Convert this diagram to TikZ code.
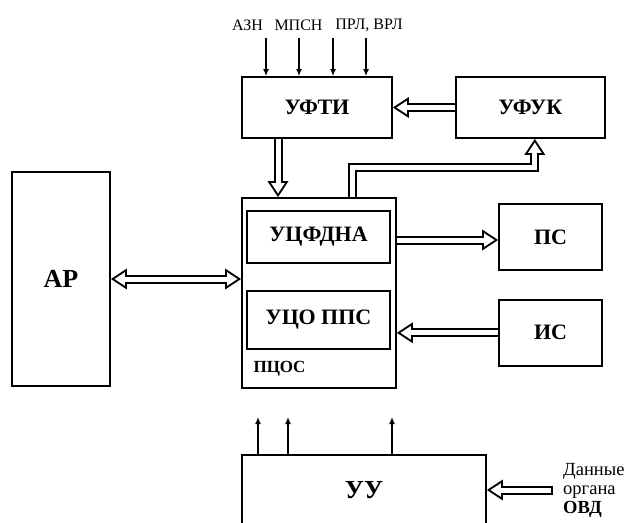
\documentclass[tikz,border=0pt]{standalone}
\usepackage{fontspec}
\setmainfont{Liberation Serif}
\usetikzlibrary{arrows.meta, positioning}

\tikzset{
  tipout/.tip={Triangle[width=21pt,length=16pt,line width=0pt]},
  tipin/.tip={Triangle[width=13.6pt,length=10.4pt,line width=0pt]}
}

\begin{document}
\begin{tikzpicture}[
  x=1pt, y=-1pt,
  blok/.style={
    draw, line width=1.8pt,
    font=\fontsize{22}{24}\selectfont\bfseries,
    inner sep=0pt
  },
  big/.style={font=\fontsize{26}{28}\selectfont\bfseries},
  inlbl/.style={font=\fontsize{16}{18}\selectfont},
  arr/.style={line width=1.4pt, -{Latex[length=7pt,width=6pt]}},
  dbl/.style={
    line width=9pt, -{tipout},
    postaction={draw=white, line width=5pt,
      shorten >=3.6pt, shorten <=#1, -{tipin}}
  },
  dbl/.default=0pt,
  dblboth/.style={
    line width=9pt, {tipout}-{tipout},
    postaction={draw=white, line width=5pt,
      shorten >=3.6pt, shorten <=3.6pt, {tipin}-{tipin}}
  }
]
\useasboundingbox (0,0) rectangle (628,522);
\clip (0,0) rectangle (628,522);

\node[blok, big, minimum width=98pt, minimum height=214pt] (ar) at (61,279) {АР};
\node[blok, minimum width=154pt, minimum height=190pt] (pcos) at (319,293) {};
\node[blok, minimum width=143pt, minimum height=52pt] (ucfdna) at (318.5,237)
  {УЦФДНА};
\node[blok, minimum width=143pt, minimum height=58pt, below=26pt of ucfdna]
  (ucopps) {УЦО ППС};
\node[anchor=west, font=\fontsize{17}{19}\selectfont\bfseries] (pcoslbl)
  at (250,369) {ПЦОС};

\node[blok, minimum width=150pt, minimum height=61pt] (ufti) at (317,107.5)
  {УФТИ};
\node[blok, minimum width=149pt, minimum height=61pt, right=62pt of ufti]
  (ufuk) {УФУК};
\node[blok, minimum width=103pt, minimum height=66pt] (ps) at (550.5,237) {ПС};
\node[blok, minimum width=103pt, minimum height=66pt, below=28pt of ps]
  (is) {ИС};

\node[blok, minimum width=244pt, minimum height=120pt, anchor=north] (uu)
  at (364,454) {};
\node[big] (uulbl) at (364,490) {УУ};
\node[anchor=west, align=left, inner sep=0pt,
  font=\fontsize{18.5}{19}\selectfont] (ovdlbl)
  at (563,490) {Данные\\органа\\\textbf{ОВД}};

% inputs
\node[inlbl] (azn) at (247.5,25) {АЗН};
\node[inlbl] (mpsn) at (298.5,25) {МПСН};
\node[inlbl] (prl) at (369,25) {ПРЛ, ВРЛ};
\foreach \x [count=\i] in {266,299,333,366} {
  \coordinate (in\i) at (\x,38);
  \draw[arr] (in\i) -- (in\i |- ufti.north);
}
\foreach \x [count=\i] in {258,288,392} {
  \coordinate (out\i) at (\x,417);
  \draw[arr] (uu.north -| out\i) -- (out\i);
}

% wide links
\draw[dbl] (ufuk.west) -- (ufuk.west -| ufti.east);
\draw[dbl] ([xshift=-39pt]ufti.south) -- ([xshift=-39pt]ufti.south |- pcos.north);
\draw[dbl] ([xshift=33pt]pcos.north) -- ++(0,-30) -| ([xshift=4.5pt]ufuk.south);
\draw[dblboth] (ar.east) -- (ar.east -| pcos.west);
\draw[dbl] (pcos.east |- 0,240) -- (ps.west |- 0,240);
\draw[dbl] (is.west) -- (is.west -| pcos.east);
\coordinate (ovd) at (553,490);
\draw[dbl=2pt] (ovd) -- (ovd -| uu.east);

\end{tikzpicture}
\end{document}
